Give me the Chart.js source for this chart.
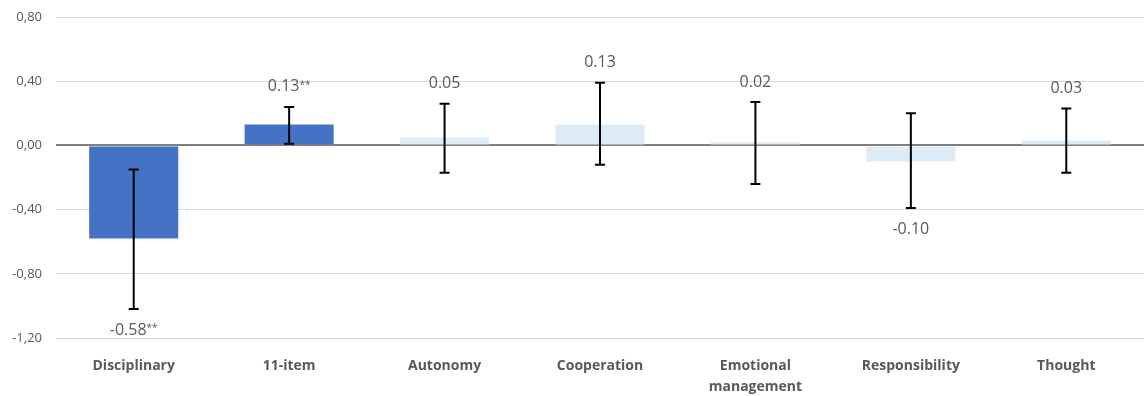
<!DOCTYPE html>
<html>
<head>
<meta charset="utf-8">
<script src="https://cdn.jsdelivr.net/npm/chart.js@4"></script>
<style>
  html, body { margin: 0; padding: 0; background: #fff; }
  #wrap { width: 1144px; height: 396px; }
</style>
</head>
<body>
<div id="wrap"><canvas id="effectChart" width="1144" height="396"></canvas></div>
<script>
const categories = ['Disciplinary', '11-item', 'Autonomy', 'Cooperation', ['Emotional', 'management'], 'Responsibility', 'Thought'];
const effects = [-0.58, 0.13, 0.05, 0.13, 0.02, -0.10, 0.03];
const errorLow = [-1.02, 0.01, -0.17, -0.12, -0.24, -0.39, -0.17];
const errorHigh = [-0.15, 0.24, 0.26, 0.39, 0.27, 0.20, 0.23];
const significance = ['**', '**', '', '', '', '', ''];
const yTicks = [-1.2, -0.8, -0.4, 0, 0.4, 0.8];

const darkBlue = '#4472C4';
const lightBlue = '#DDEBF7';
const barColors = significance.map(s => s ? darkBlue : lightBlue);

const fontFamily = "'Open Sans', 'Noto Sans', sans-serif";

// draws the error bars and the value labels
const errorBarPlugin = {
    id: 'errorBars',
    afterDatasetsDraw(chart) {
        const ctx = chart.ctx;
        const meta = chart.getDatasetMeta(0);
        const y = chart.scales.y;
        ctx.save();
        meta.data.forEach((bar, i) => {
            const x = bar.x;
            const yLow = y.getPixelForValue(errorLow[i]);
            const yHigh = y.getPixelForValue(errorHigh[i]);
            ctx.strokeStyle = '#000';
            ctx.lineWidth = 2;
            ctx.beginPath();
            ctx.moveTo(x, yLow);
            ctx.lineTo(x, yHigh);
            ctx.moveTo(x - 5, yLow);
            ctx.lineTo(x + 5, yLow);
            ctx.moveTo(x - 5, yHigh);
            ctx.lineTo(x + 5, yHigh);
            ctx.stroke();

            // label goes beyond the end of the error bar
            const labelY = effects[i] < 0 ? yLow + 21 : yHigh - 20;
            const text = effects[i].toFixed(2);
            ctx.font = '16px ' + fontFamily;
            const w1 = ctx.measureText(text).width;
            ctx.font = '10px ' + fontFamily;
            const w2 = significance[i] ? ctx.measureText(significance[i]).width : 0;
            const start = x - (w1 + w2) / 2;
            ctx.fillStyle = '#595959';
            ctx.textBaseline = 'middle';
            ctx.textAlign = 'left';
            ctx.font = '16px ' + fontFamily;
            ctx.fillText(text, start, labelY);
            if (significance[i]) {
                ctx.font = '10px ' + fontFamily;
                ctx.fillText(significance[i], start + w1, labelY - 2);
            }
        });
        ctx.restore();
    }
};

const effectData = {
    labels: categories,
    datasets: [{
        data: effects,
        backgroundColor: barColors,
        borderWidth: 0,
        categoryPercentage: 1,
        barPercentage: 0.573
    }]
};

const effectConfig = {
    type: 'bar',
    data: effectData,
    options: {
        responsive: false,
        animation: false,
        layout: { padding: { top: 17, right: 0, left: 1, bottom: 0 } },
        plugins: {
            legend: { display: false },
            tooltip: { enabled: false }
        },
        scales: {
            x: {
                grid: { display: false, drawTicks: false },
                border: { display: false },
                ticks: {
                    color: '#595959',
                    font: { family: fontFamily, size: 14, weight: 'bold', lineHeight: 1.5 },
                    padding: 18,
                    maxRotation: 0,
                    autoSkip: false
                },
                afterFit(scale) { scale.height = 58; }
            },
            y: {
                min: -1.2,
                max: 0.8,
                afterBuildTicks(scale) {
                    scale.ticks = yTicks.map(v => ({ value: v }));
                },
                grid: {
                    color: ctx => ctx.tick && Math.abs(ctx.tick.value) < 1e-9 ? '#808080' : '#d9d9d9',
                    lineWidth: ctx => ctx.tick && Math.abs(ctx.tick.value) < 1e-9 ? 2 : 1,
                    drawTicks: false
                },
                border: { display: false },
                ticks: {
                    color: '#595959',
                    font: { family: fontFamily, size: 13 },
                    padding: 14,
                    callback: v => (Math.round(v * 100) / 100).toFixed(2).replace('.', ',').replace('-0,00', '0,00')
                },
                afterFit(scale) {
                    scale.width = 55;
                    scale.paddingTop = 0;
                    scale.paddingBottom = 0;
                }
            }
        }
    },
    plugins: [errorBarPlugin]
};

const effectChart = new Chart(
    document.getElementById('effectChart'),
    effectConfig
);
</script>
</body>
</html>
